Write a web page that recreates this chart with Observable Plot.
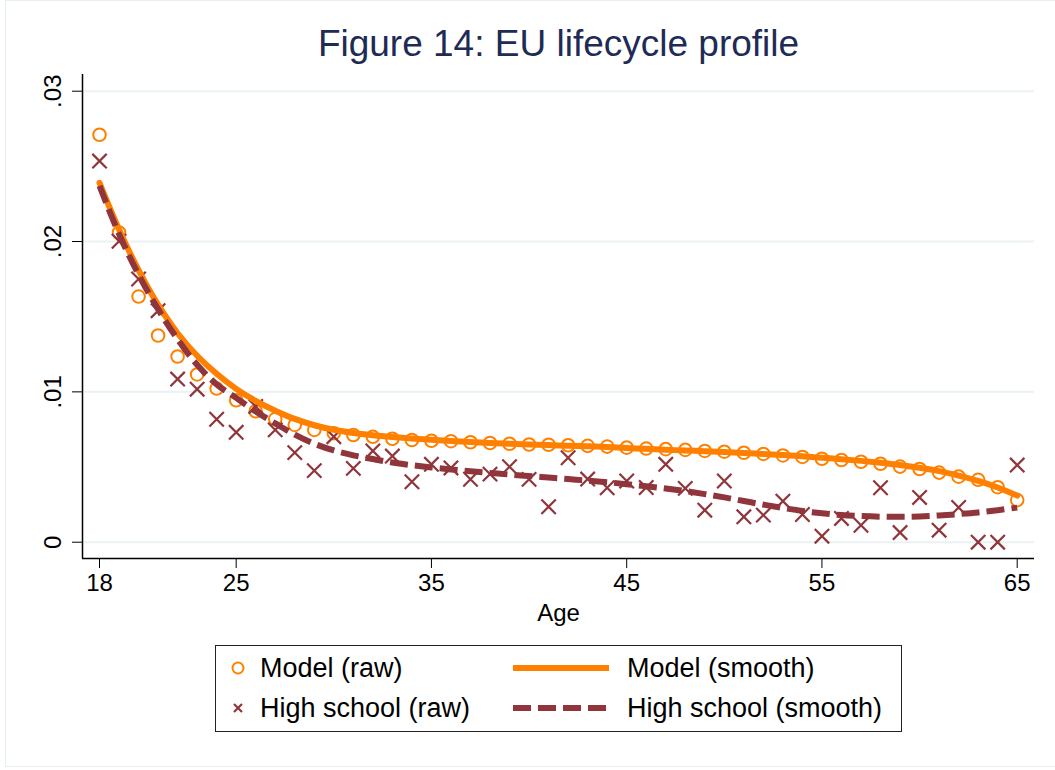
<!DOCTYPE html>
<html>
<head>
<meta charset="utf-8">
<script src="https://cdn.jsdelivr.net/npm/d3@7"></script>
<script src="https://cdn.jsdelivr.net/npm/@observablehq/plot@0.6"></script>
<style>
  html, body { margin: 0; padding: 0; background: #fff; }
  body { width: 1055px; height: 770px; overflow: hidden; font-family: "Liberation Sans", Arial, sans-serif; }
  #wrap { position: relative; width: 1055px; height: 770px; }
  #frame { position: absolute; left: 5px; top: 0px; width: 1060px; height: 767px; border: 1.5px solid #e6eff1; box-sizing: border-box; }
  #title { position: absolute; left: 0; top: 24px; width: 1117px; text-align: center; font-size: 37px; color: #1e2b55; line-height: 40px; }
  #plot { position: absolute; left: 0; top: 60px; }
  #legend { position: absolute; left: 215px; top: 645px; width: 687px; height: 87px; border: 1.5px solid #222; box-sizing: border-box; font-size: 27px; color: #000; }
  .item { position: absolute; display: flex; align-items: center; height: 30px; }
  .item svg { display: block; }
</style>
</head>
<body>
<div id="wrap">
  <div id="frame"></div>
  <div id="title">Figure 14: EU lifecycle profile</div>
  <div id="plot"></div>
  <div id="legend"></div>
</div>
<script>
// ---- data ----
const ages = [18,19,20,21,22,23,24,25,26,27,28,29,30,31,32,33,34,35,36,37,38,39,40,41,42,43,44,45,46,47,48,49,50,51,52,53,54,55,56,57,58,59,60,61,62,63,64,65];

const modelRaw = [0.0271,0.0206,0.01634,0.01375,0.01235,0.01116,0.01022,0.00944,0.00871,0.00819,
  0.0078,0.00747,0.00725,0.00713,0.00701,0.00688,0.0068,0.00675,0.00672,0.00665,
  0.0066,0.00655,0.00650,0.00648,0.00645,0.00641,0.00636,0.00629,0.00623,0.00619,
  0.00614,0.00607,0.00602,0.00595,0.00587,0.00577,0.00567,0.00555,0.00547,0.00535,
  0.00522,0.00503,0.00487,0.00463,0.00436,0.00415,0.00366,0.0028];

const hsRaw = [0.02535,0.02002,0.01751,0.0154,0.01085,0.01018,0.00818,0.00731,0.00903,0.00747,
  0.00596,0.00476,0.00702,0.00491,0.00607,0.00573,0.00402,0.00518,0.00494,0.00419,
  0.00453,0.00502,0.00418,0.00236,0.00562,0.0042,0.00362,0.00407,0.00364,0.00518,
  0.00358,0.00213,0.00407,0.00169,0.0018,0.00273,0.00184,0.0004,0.00158,0.00113,
  0.00362,0.00064,0.00298,0.0008,0.00231,0,0,0.00513];

const modelSmooth = [0.0239,0.0208,0.0181,0.0158,0.0139,0.0124,0.0112,0.0102,0.0094,0.00875,
  0.0082,0.00778,0.00748,0.00727,0.00712,0.0070,0.0069,0.00681,0.00673,0.00666,
  0.0066,0.00655,0.0065,0.00646,0.00642,0.00638,0.00633,0.00627,0.00621,0.00615,
  0.0061,0.00605,0.0060,0.00594,0.00587,0.0058,0.00572,0.00562,0.00552,0.00541,
  0.00528,0.00513,0.00495,0.00473,0.00443,0.00408,0.00364,0.0031];

const hsSmooth = [0.0237,0.0205,0.0178,0.0155,0.0135,0.0118,0.0105,0.0096,0.0087,0.0079,
  0.00715,0.00655,0.0061,0.00578,0.00553,0.0053,0.00512,0.00497,0.00484,0.00472,
  0.00461,0.0045,0.0044,0.0043,0.0042,0.0041,0.00399,0.00386,0.00372,0.00357,
  0.0034,0.0032,0.00298,0.00274,0.0025,0.00228,0.00208,0.00192,0.00181,0.00174,
  0.0017,0.00169,0.00171,0.00178,0.00187,0.00198,0.00213,0.0023];

const xTicks = [18, 25, 35, 45, 55, 65];
const yTicks = [0, 0.01, 0.02, 0.03];
const yTickLabels = ["0", ".01", ".02", ".03"];
const seriesNames = ["Model (raw)", "High school (raw)", "Model (smooth)", "High school (smooth)"];

// ---- styles ----
const ORANGE = "#ff8000";
const CRAN = "#90353b";
const GRID = "#eaf2f3";

const rows = ages.map((a, i) => ({age: a, modelRaw: modelRaw[i], hsRaw: hsRaw[i], modelSmooth: modelSmooth[i], hsSmooth: hsSmooth[i]}));

const chart = Plot.plot({
  width: 1055,
  height: 580,
  marginTop: 14,
  marginBottom: 82,
  marginLeft: 82,
  marginRight: 21,
  style: {fontFamily: "Liberation Sans, Arial, sans-serif", fontSize: "24px", color: "#000", background: "transparent"},
  x: {domain: [17.129, 65.886]},
  y: {domain: [-0.001084, 0.03111]},
  marks: [
    Plot.gridY(yTicks, {stroke: GRID, strokeOpacity: 1, strokeWidth: 2}),
    Plot.dot(rows, {x: "age", y: "modelRaw", r: 6.3, stroke: ORANGE, strokeWidth: 2, fill: "none"}),
    Plot.dot(rows, {x: "age", y: "hsRaw", symbol: "times", r: 6.6, stroke: CRAN, strokeWidth: 2.2}),
    Plot.line(rows, {x: "age", y: "modelSmooth", stroke: ORANGE, strokeWidth: 6, curve: "catmull-rom"}),
    Plot.line(rows, {x: "age", y: "hsSmooth", stroke: CRAN, strokeWidth: 6, strokeDasharray: "18,7", strokeLinecap: "butt", curve: "catmull-rom"}),
    Plot.ruleX([17.129], {stroke: "#000", strokeWidth: 1.5}),
    Plot.ruleY([-0.001084], {stroke: "#000", strokeWidth: 1.5}),
    Plot.axisX(xTicks, {tickSize: 10, tickPadding: 5, fontSize: 24, label: "Age", labelAnchor: "center", labelArrow: "none", labelOffset: 62}),
    Plot.axisY(yTicks, {tickSize: 10, tickPadding: 12, fontSize: 24, tickRotate: -90, tickFormat: (d) => yTickLabels[yTicks.indexOf(d)], label: null})
  ]
});
document.getElementById("plot").appendChild(chart);

// ---- legend ----
const legend = document.getElementById("legend");
function addItem(left, top, symSvg, text) {
  const div = document.createElement("div");
  div.className = "item";
  div.style.left = left + "px";
  div.style.top = top + "px";
  div.innerHTML = symSvg + `<span>${text}</span>`;
  legend.appendChild(div);
}
const circleSym = `<svg width="40" height="30"><circle cx="18" cy="15" r="5.5" fill="none" stroke="${ORANGE}" stroke-width="2"/></svg>`;
const xSym = `<svg width="40" height="30"><path d="M14,11L22,19M22,11L14,19" stroke="${CRAN}" stroke-width="2.2"/></svg>`;
const solidSym = `<svg width="126" height="30"><line x1="12" x2="108" y1="15" y2="15" stroke="${ORANGE}" stroke-width="6"/></svg>`;
const dashSym = `<svg width="126" height="30"><line x1="12" x2="108" y1="15" y2="15" stroke="${CRAN}" stroke-width="6" stroke-dasharray="18,7"/></svg>`;
addItem(4, 7, circleSym, seriesNames[0]);
addItem(4, 47, xSym, seriesNames[1]);
addItem(285, 7, solidSym, seriesNames[2]);
addItem(285, 47, dashSym, seriesNames[3]);
</script>
</body>
</html>
